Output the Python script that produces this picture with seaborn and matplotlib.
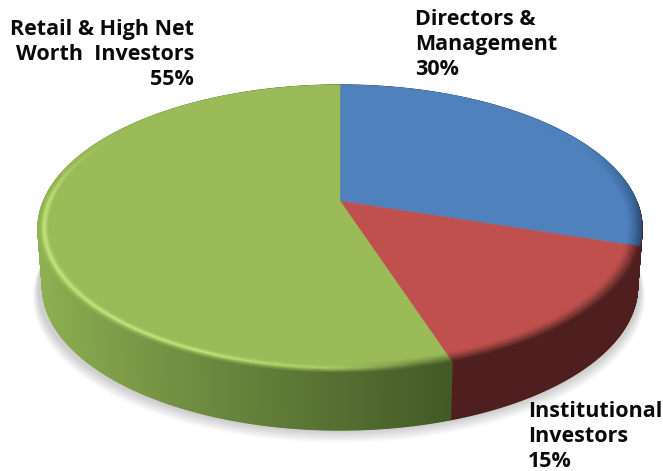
import numpy as np
import matplotlib
matplotlib.use("Agg")
import matplotlib.pyplot as plt
from matplotlib.collections import PolyCollection
from matplotlib.colors import to_rgb
import seaborn as sns

categories = ["Directors &\nManagement", "Institutional\nInvestors", "Retail & High Net\nWorth  Investors"]
shares = [30, 15, 55]
colors = ["#4F81BD", "#C0504D", "#9BBB59"]
side_left = ["#2F5A8C", "#4E1F1E", "#8FB052"]
side_right = ["#2A4E78", "#4E1F1E", "#435A27"]
label_xy = [(415, 9, "left"), (528, 401, "left"), (194, 19, "right")]

sns.set_theme(style="white")
plt.rcParams["font.family"] = ["Open Sans", "DejaVu Sans"]

fig, ax = plt.subplots(figsize=(6.63, 4.71), dpi=100)
ax.set_position([0, 0, 1, 1])
ax.set_xlim(0, 663)
ax.set_ylim(471, 0)
ax.axis("off")

CX, CY, R, P, K = 340.0, 201.0, 296.4, 138.2, 0.1916
DEPTH = 58.0


def project(theta, t=1.0):
    u, v = t * np.sin(theta), t * np.cos(theta)
    d = 1 + K * v
    return CX + R * u / d, CY - P * v / d


fr = np.cumsum([0] + shares) / sum(shares) * 2 * np.pi

# soft shadow under the disc
full = np.linspace(0, 2 * np.pi, 361)
for i in range(12):
    gx, gy = project(full, 1.0)
    s = 0.995 + 0.0016 * (12 - i)
    ax.fill(CX - 1 + (gx - CX) * s, gy + DEPTH + 2 + (gy - CY) * (s - 1) + 0.7 * (12 - i),
            color="#000000", alpha=0.014, lw=0, zorder=1)

# side wall
for k, (a, b, c0, c1) in enumerate(zip(fr[:-1], fr[1:], side_left, side_right)):
    start = a - 0.3 if k == 1 else a
    n = max(int((b - start) / 0.006), 2)
    th = np.linspace(start, b, n + 1)
    x, y = project(th)
    polys, cols = [], []
    c0, c1 = np.array(to_rgb(c0)), np.array(to_rgb(c1))
    for i in range(n):
        xb0 = CX + (x[i] - CX) * 0.985
        xb1 = CX + (x[i + 1] - CX) * 0.985
        polys.append([(x[i], y[i]), (x[i + 1], y[i + 1]),
                      (xb1, y[i + 1] + DEPTH), (xb0, y[i] + DEPTH)])
        f = np.clip((x[i] - 38) / (448 - 38), 0, 1) ** 0.9
        cols.append(c0 * (1 - f) + c1 * f)
    ax.add_collection(PolyCollection(polys, facecolors=cols, edgecolors=cols, linewidths=1.0, zorder=2))

# top face and bevelled rim
T0 = 0.955
radii = np.linspace(T0, 1.0, 13)
for a, b, col, c0, c1 in zip(fr[:-1], fr[1:], colors, side_left, side_right):
    col = np.array(to_rgb(col))
    c0, c1 = np.array(to_rgb(c0)), np.array(to_rgb(c1))
    n = max(int((b - a) / 0.012), 2)
    th = np.linspace(a, b, n + 1)
    fx, fy = project(th, T0 + 0.002)
    ax.fill(np.r_[CX, fx], np.r_[CY, fy], color=col, lw=0.3, ec=col, zorder=4)
    polys, cols = [], []
    for i in range(n):
        m = 0.5 * (th[i] + th[i + 1])
        front = np.clip((0.45 - np.cos(m)) / 0.6, 0, 1)
        vis = np.clip((0.55 - np.cos(m)) / 0.5, 0, 1)
        left = np.clip(-np.sin(m) * 1.6 + 0.35, 0, 1)
        w = np.clip(left * 2.5, 0, 1)
        xm, _ = project(m)
        f = np.clip((xm - 38) / (448 - 38), 0, 1)
        wall = c0 * (1 - f) + c1 * f
        for j in range(len(radii) - 1):
            s = (j + 0.5) / (len(radii) - 1)
            x0, y0 = project(th[i], radii[j])
            x1, y1 = project(th[i + 1], radii[j])
            x2, y2 = project(th[i + 1], radii[j + 1])
            x3, y3 = project(th[i], radii[j + 1])
            polys.append([(x0, y0), (x1, y1), (x2, y2), (x3, y3)])
            hl = 0.6 * left * vis * np.exp(-(((s - 0.58) / 0.2) ** 2)) * (0.55 + 0.45 * front)
            c = col + (np.array([0.86, 1.0, 0.55]) - col) * hl
            d_left = np.clip((s - 0.6) / 0.45, 0, 1) ** 1.4
            d_right = np.clip(s, 0, 1) ** 1.2
            dark = front * (w * d_left + (1 - w) * d_right)
            c = c + (wall - c) * dark
            cols.append(np.clip(c, 0, 1))
    ax.add_collection(PolyCollection(polys, facecolors=cols, edgecolors=cols, linewidths=0.4, zorder=5))

# labels
for name, share, (lx, ly, ha) in zip(categories, shares, label_xy):
    ax.text(lx, ly, f"{name}\n{share}%", ha=ha, va="top", fontsize=15.5, fontweight="bold",
            color="#0A0A0A", linespacing=1.26, zorder=6, multialignment=ha)

fig.savefig("out.png", dpi=100)
